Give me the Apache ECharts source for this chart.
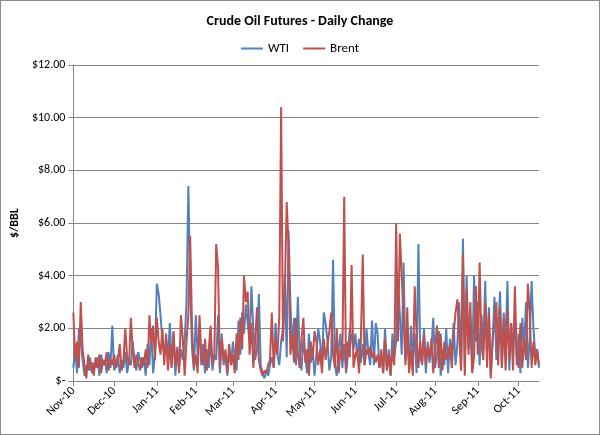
<!DOCTYPE html>
<html>
<head>
<meta charset="utf-8">
<script src="https://cdn.jsdelivr.net/npm/echarts@6/dist/echarts.min.js"></script>
<style>
  html, body { margin: 0; padding: 0; background: #fff; }
  #chart { width: 598px; height: 433px; border: 1px solid #8c8c8c; }
</style>
</head>
<body>
<div id="chart"></div>
<script>
var wti = [
    0.5,1.2,0.3,2.0,1.5,0.8,0.2,0.6,0.4,0.9,0.3,0.7,
    0.5,0.9,0.2,1.0,0.6,0.8,0.3,1.1,0.5,2.1,0.4,0.6,
    1.0,0.3,0.8,0.5,1.1,0.3,0.8,0.6,1.5,0.7,0.4,1.1,
    0.8,0.5,0.9,0.2,1.4,0.6,2.0,0.3,1.0,3.7,3.3,2.5,
    1.5,1.0,1.6,0.8,2.2,0.6,1.8,0.2,1.3,0.5,1.2,0.8,
    1.5,3.0,7.4,3.5,1.2,0.4,2.5,1.0,2.0,0.6,1.4,0.3,
    1.2,0.5,1.6,0.4,1.0,0.8,2.5,0.3,1.8,0.6,1.0,0.2,
    1.2,0.6,1.5,0.9,0.4,2.3,1.0,2.6,1.8,2.9,2.2,1.5,
    3.6,2.0,0.8,1.2,3.3,0.6,0.3,0.1,0.4,0.2,0.6,0.9,
    0.5,2.2,1.0,0.6,1.5,2.0,4.0,0.9,5.7,3.0,1.2,2.4,
    0.6,3.2,1.0,0.4,1.6,0.9,0.3,1.8,0.7,1.2,0.2,1.0,
    2.0,1.5,0.5,2.6,2.2,1.5,0.4,0.9,4.6,0.6,0.2,1.2,
    1.8,0.5,1.4,0.3,1.0,2.0,1.6,1.2,1.8,0.9,1.6,0.7,
    1.4,0.6,2.0,1.1,0.6,2.3,0.6,2.2,1.8,0.5,1.0,0.3,
    2.0,0.4,1.2,0.2,1.8,0.9,1.5,3.8,2.5,1.0,4.5,0.8,
    1.6,0.4,2.1,0.9,1.8,0.3,5.2,1.0,0.6,2.0,0.3,1.5,
    0.7,1.2,2.4,0.5,1.0,1.9,0.2,1.2,0.6,2.0,0.3,1.6,
    1.0,2.2,0.6,1.4,3.0,0.4,5.4,0.5,4.0,1.2,2.2,0.4,
    4.0,1.5,3.0,0.6,2.5,1.2,3.8,1.0,2.8,0.2,1.5,3.2,
    0.8,2.0,3.4,0.5,2.6,1.4,3.8,0.4,2.2,1.0,2.6,0.6,
    1.8,0.3,2.4,1.2,3.0,0.5,1.6,3.8,2.0,1.0,1.2,0.5
];
var brent = [
    2.6,0.8,1.5,0.5,3.0,1.2,0.6,0.1,1.0,0.4,0.7,0.2,
    0.9,0.5,1.0,0.3,0.8,0.6,1.1,0.4,0.8,0.6,1.0,0.5,
    0.7,1.4,0.4,0.8,2.0,0.9,0.6,2.4,1.2,0.5,1.0,0.7,
    0.4,0.9,0.6,1.2,0.5,2.5,1.4,2.1,0.8,2.4,1.5,1.0,
    2.0,0.6,1.8,0.4,1.4,0.5,1.9,0.6,1.2,0.3,2.5,1.6,
    0.2,1.5,2.5,5.5,2.0,0.5,1.0,0.3,2.5,1.0,0.6,1.6,
    0.4,1.2,2.1,0.6,1.0,5.2,4.3,0.5,1.6,0.8,1.2,0.3,
    1.4,0.6,1.0,0.3,1.8,0.8,2.4,1.2,4.0,3.0,3.4,1.0,
    2.2,0.5,1.5,2.8,0.8,0.4,0.2,0.4,0.3,0.6,0.8,2.6,
    0.5,1.6,1.0,2.4,10.4,1.5,3.5,6.8,5.2,1.0,1.8,0.7,
    2.4,1.0,0.5,1.6,2.4,0.7,1.2,0.2,1.5,0.8,1.9,1.5,
    0.6,1.2,0.3,1.6,0.8,1.4,1.9,2.6,1.0,0.5,2.0,0.3,
    1.2,0.8,7.0,0.4,1.5,0.9,4.4,0.5,1.0,1.2,0.3,1.6,
    4.8,0.6,1.2,1.0,1.3,0.9,1.1,0.7,1.0,0.5,1.2,0.3,
    1.6,0.4,1.0,0.2,1.2,0.6,6.0,1.5,5.6,4.0,2.5,0.6,
    2.8,0.3,1.2,0.2,3.6,1.8,0.5,1.5,0.7,1.8,0.6,1.3,
    0.9,1.6,0.3,1.2,2.1,0.5,1.8,0.4,1.5,0.8,1.0,1.4,
    0.5,1.8,2.6,3.1,3.1,0.4,4.8,0.2,3.5,1.0,3.0,0.3,
    0.9,3.6,1.0,4.5,1.4,0.8,3.0,0.5,2.6,0.1,1.6,2.2,
    3.0,0.6,2.8,0.5,2.4,0.4,2.7,0.8,2.2,0.4,3.6,1.0,
    0.5,2.2,0.5,1.6,0.8,3.7,2.6,0.5,1.5,0.6,1.2,0.6
];
var monthNames = ['Jan','Feb','Mar','Apr','May','Jun','Jul','Aug','Sep','Oct','Nov','Dec'];

// trading days (weekdays) starting 1 Nov 2010, one per data point
var dates = [];
var d = new Date(2010, 10, 1);
while (dates.length < wti.length) {
    if (d.getDay() !== 0 && d.getDay() !== 6) {
        dates.push(monthNames[d.getMonth()] + '-' + String(d.getFullYear()).slice(2));
    }
    d.setDate(d.getDate() + 1);
}
function monthStart(i) {
    return i === 0 || dates[i] !== dates[i - 1];
}

var chart = echarts.init(document.getElementById('chart'));
var font = 'Calibri, Carlito, "Liberation Sans", sans-serif';
chart.setOption({
    animation: false,
    color: ['#4F81BD', '#C0504D'],
    title: {
        text: 'Crude Oil Futures - Daily Change',
        left: 'center', top: 8,
        textStyle: {fontSize: 14, fontWeight: 'bold', color: '#000', fontFamily: font}
    },
    legend: {
        top: 36, left: 'center', itemWidth: 22, itemHeight: 2, itemGap: 14,
        icon: 'rect',
        textStyle: {fontSize: 13, color: '#000', fontFamily: font},
        data: ['WTI', 'Brent']
    },
    grid: {left: 60, right: 60, top: 64, bottom: 53},
    xAxis: {
        type: 'category',
        data: dates,
        boundaryGap: false,
        axisLine: {lineStyle: {color: '#868686'}},
        axisTick: {interval: function (i) { return monthStart(i); }, length: 5, lineStyle: {color: '#868686'}},
        axisLabel: {
            interval: function (i) { return monthStart(i); },
            rotate: 45, color: '#000', fontSize: 12, fontFamily: font, margin: 8
        },
        splitLine: {show: false}
    },
    yAxis: {
        type: 'value', min: 0, max: 12, interval: 2,
        name: '$/BBL', nameLocation: 'middle', nameGap: 44, nameRotate: 90,
        nameTextStyle: {fontWeight: 'bold', fontSize: 12, color: '#000', fontFamily: font},
        axisLine: {show: true, lineStyle: {color: '#868686'}},
        axisTick: {show: true, lineStyle: {color: '#868686'}},
        axisLabel: {
            color: '#000', fontSize: 12, fontFamily: font,
            formatter: function (v) { return v === 0 ? '$-' : '$' + v.toFixed(2); }
        },
        splitLine: {lineStyle: {color: '#868686'}}
    },
    series: [
        {name: 'WTI', type: 'line', data: wti, symbol: 'none', lineStyle: {width: 2}},
        {name: 'Brent', type: 'line', data: brent, symbol: 'none', lineStyle: {width: 2}}
    ]
});
</script>
</body>
</html>
